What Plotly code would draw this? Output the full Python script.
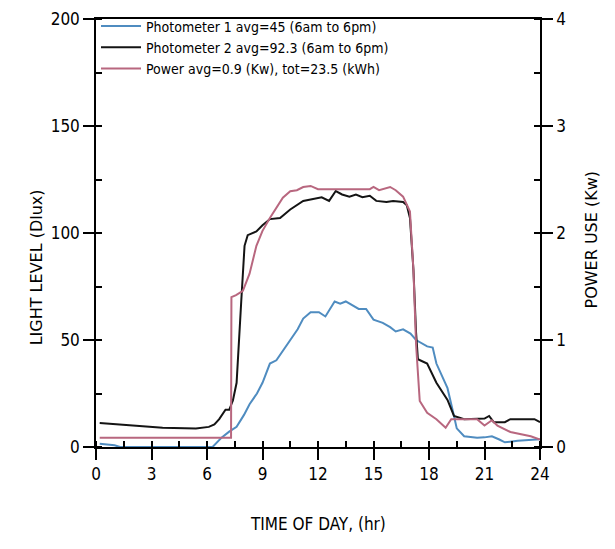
import plotly.graph_objects as go

# ---- data ----
hours_p1 = [0.2, 0.6, 1.0, 1.3, 2, 3, 4, 5, 6, 6.3, 6.8, 7.2, 7.6, 8.0, 8.3, 8.7, 9.0, 9.4, 9.75,
            10.1, 10.5, 10.9, 11.2, 11.6, 12.05, 12.4, 12.9, 13.2, 13.5, 13.9, 14.2, 14.6, 15.0,
            15.5, 15.9, 16.2, 16.6, 17.0, 17.3, 17.9, 18.2, 18.4, 19.0, 19.35, 19.5, 19.9, 20.6,
            21.0, 21.4, 21.8, 22.1, 22.8, 23.7, 24]
lux_p1 = [1.5, 1.2, 0.8, 0, 0, 0, 0, 0, 0, 0, 4.5, 7.2, 9.4, 15, 20, 25, 30, 39, 40.5,
          45, 50, 55, 60, 63, 63, 61, 68, 67, 68, 66, 64.5, 64.5, 59.5,
          58, 56, 54, 55, 53, 50, 47, 46.5, 39, 27.5, 14.5, 8.7, 5, 4.3,
          4.5, 5, 3.5, 2.2, 2.9, 3.6, 3.6]

hours_p2 = [0.2, 1.7, 3.6, 5.4, 6.1, 6.4, 6.66, 7.0, 7.2, 7.4, 7.6, 7.85, 8.03, 8.2, 8.67, 9.0,
            9.4, 9.95, 10.5, 11.2, 11.7, 12.2, 12.6, 12.96, 13.3, 13.7, 14.05, 14.4, 14.8, 15.15,
            15.7, 16.06, 16.6, 16.8, 16.97, 17.16, 17.3, 17.4, 17.9, 18.4, 19.0, 19.35, 19.9,
            20.6, 21.0, 21.25, 21.5, 22.1, 22.4, 23.7, 24]
lux_p2 = [11.2, 10.1, 9, 8.7, 9.4, 10.5, 13, 17.4, 17.4, 21.7, 30, 68, 94, 99, 100.7, 103.6,
          106.5, 107, 111, 115, 116, 116.7, 115, 119.6, 118, 117, 118, 116.7, 117.4, 115,
          114.5, 115, 114.5, 113, 107, 82.6, 53.6, 41, 39, 30, 22, 14.5, 13,
          13, 13.3, 14.5, 11.6, 11.6, 13, 13, 11.6]

hours_pw = [0.2, 7.3, 7.32, 7.57, 7.94, 8.3, 8.67, 9.0, 9.4, 9.76, 10.1, 10.5, 10.86, 11.2, 11.6,
            12.0, 14.8, 15.0, 15.3, 15.9, 16.2, 16.6, 16.97, 17.16, 17.3, 17.5, 17.9, 18.4, 18.9,
            19.2, 19.7, 20.6, 21.0, 21.4, 21.7, 22.4, 23.5, 23.9, 24]
kw_pw = [0.086, 0.086, 1.40, 1.42, 1.46, 1.62, 1.88, 2.02, 2.14, 2.24, 2.33, 2.39, 2.40, 2.43, 2.44,
         2.41, 2.41, 2.43, 2.40, 2.43, 2.40, 2.34, 2.20, 1.65, 0.96, 0.43, 0.32, 0.26, 0.18,
         0.26, 0.26, 0.26, 0.20, 0.25, 0.20, 0.14, 0.10, 0.07, 0.07]

names = ["Photometer 1 avg=45 (6am to 6pm)",
         "Photometer 2 avg=92.3 (6am to 6pm)",
         "Power avg=0.9 (Kw), tot=23.5 (kWh)"]
x_ticks = [0, 3, 6, 9, 12, 15, 18, 21, 24]

BLUE = "#4f8cc0"
BLACK = "#141414"
PINK = "#b8677f"
NARROW = "DejaVu Sans Condensed, Liberation Sans Narrow, Arial Narrow, sans-serif"

fig = go.Figure()
fig.add_trace(go.Scatter(x=hours_p1, y=lux_p1, mode="lines", name=names[0],
                         line=dict(color=BLUE, width=2)))
fig.add_trace(go.Scatter(x=hours_p2, y=lux_p2, mode="lines", name=names[1],
                         line=dict(color=BLACK, width=2)))
fig.add_trace(go.Scatter(x=hours_pw, y=kw_pw, mode="lines", name=names[2], yaxis="y2",
                         line=dict(color=PINK, width=2)))

axis_common = dict(showgrid=False, zeroline=False, linecolor="black", linewidth=1.5,
                   ticks="outside", ticklen=11, tickwidth=1.5, tickcolor="black",
                   ticklabeloverflow="allow",
                   tickfont=dict(family=NARROW, size=17, color="black"), layer="above traces")

fig.update_layout(
    width=615, height=549,
    margin=dict(l=88, r=83, t=2, b=110),
    paper_bgcolor="white", plot_bgcolor="white",
    showlegend=True,
    legend=dict(x=0.0, y=1.02, xanchor="left", yanchor="top", bgcolor="rgba(0,0,0,0)",
                font=dict(family=NARROW, size=14, color="black"), tracegroupgap=0,
                itemwidth=40),
    xaxis=dict(range=[0, 24], tickvals=x_ticks, mirror=True,
               minor=dict(dtick=1.5, ticks="inside", ticklen=6, tickcolor="black"),
               **axis_common),
    yaxis=dict(range=[0, 200], tickvals=[0, 50, 100, 150, 200],
               minor=dict(dtick=25, ticks="inside", ticklen=6, tickcolor="black"),
               **axis_common),
    yaxis2=dict(range=[0, 4], tickvals=[0, 1, 2, 3, 4], overlaying="y", side="right",
                minor=dict(dtick=0.5, ticks="inside", ticklen=6, tickcolor="black"),
                **axis_common),
    annotations=[
        dict(text="TIME OF DAY, (hr)", xref="paper", yref="paper", x=0.5, y=-0.18,
             xanchor="center", yanchor="middle", showarrow=False,
             font=dict(family=NARROW, size=17, color="black")),
        dict(text="LIGHT LEVEL (Dlux)", xref="paper", yref="paper", x=-0.135, y=0.42,
             xanchor="center", yanchor="middle", showarrow=False, textangle=-90,
             font=dict(family="DejaVu Sans", size=16, color="black")),
        dict(text="POWER USE (Kw)", xref="paper", yref="paper", x=1.115, y=0.485,
             xanchor="center", yanchor="middle", showarrow=False, textangle=-90,
             font=dict(family="DejaVu Sans", size=16, color="black")),
    ],
)

fig.write_html("out.html")
